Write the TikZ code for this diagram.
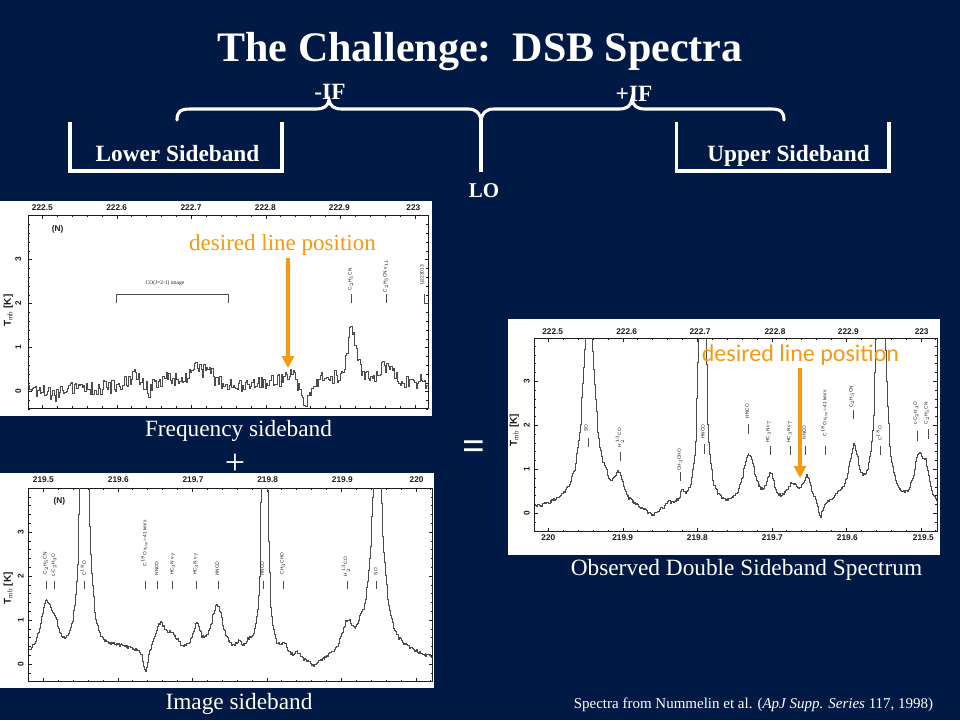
\documentclass[tikz,border=0pt]{standalone}
\usepackage{fontspec}
\setmainfont{Liberation Serif}
\setsansfont{Liberation Sans}
\newfontfamily\carl{Carlito}
\definecolor{slidebg}{HTML}{001A45}
\definecolor{lineorange}{HTML}{F59A12}
\definecolor{inkgray}{HTML}{1C1C1C}
\newcommand{\fsz}[1]{\fontsize{#1}{#1}\selectfont}
\newcommand{\ctwo}{C$_2$H$_5$CN}
\newcommand{\coxy}{c-C$_2$H$_4$O}
\newcommand{\cvlsr}{C$^{18}$O v$_{\rm LSR}$=-41 km/s}
\newcommand{\cone}{C$^{18}$O}
\newcommand{\hcn}{HC$_3$N v$_7$}
\newcommand{\hthree}{H$_2^{\,13}$CO}
\newcommand{\plotframe}[6]{%
  \draw[axisline] (#1,#3) rectangle (#2,#4);
  \begin{scope}
    \clip (#1,#3-1) rectangle (#2,#4+30);
    \foreach \k in {0,...,34}{
      \pgfmathsetmacro{\xx}{#6+(\k-5)*44.7}
      \pgfmathparse{mod(\k,5)==0 ? 11 : 6}\let\len\pgfmathresult
      \draw[axisline] (\xx,#3) -- ++(0,\len);
      \draw[axisline] (\xx,#4) -- ++(0,-\len);
    }
    \foreach \k in {-2,...,20}{
      \pgfmathsetmacro{\yy}{#5-\k*26.4}
      \pgfmathparse{mod(\k+10,5)==0 ? 11 : 6}\let\len\pgfmathresult
      \ifdim\yy pt>#3pt
      \draw[axisline] (#1,\yy) -- ++(\len,0);
      \draw[axisline] (#2,\yy) -- ++(-\len,0);
      \fi
    }
  \end{scope}
}
\tikzset{
  axisline/.style={draw=inkgray,line width=0.5pt},
  traceline/.style={draw=black!70,line width=0.42pt},
  markline/.style={draw=black!70,line width=0.5pt},
  whiteline/.style={draw=white,line width=3.1pt},
  titletext/.style={text=white,font=\bfseries\fsz{42},anchor=base,inner sep=0pt},
  headtext/.style={text=white,font=\bfseries\fsz{23.3},anchor=base,inner sep=0pt},
  captext/.style={text=white,font=\fsz{23.3},anchor=base,inner sep=0pt},
  axlabel/.style={font=\sffamily\bfseries\fsz{8.3},text=inkgray,inner sep=0pt},
  molabel/.style={font=\sffamily\fsz{4.8},text=inkgray,inner sep=0pt,rotate=90},
  oarrow/.style={draw=lineorange,line width=3.6pt,-{Triangle[width=12pt,length=12pt]}},
}
\usetikzlibrary{arrows.meta}
\begin{document}
\begin{tikzpicture}[x=1pt,y=-1pt,
  declare function={
    lz(\x,\c,\a,\w)=\a/(1+min(abs(\x-\c)/\w,100)^2);
    fa(\x)=0.05+lz(\x,160,-.15,15)+lz(\x,405,.28,30)+lz(\x,445,-.25,15)+lz(\x,500,.2,60)+lz(\x,590,.4,25)+lz(\x,625,.22,15)+lz(\x,800,.12,80)+lz(\x,870,.28,25)+lz(\x,915,-.45,15)+lz(\x,975,.2,25)+lz(\x,1053,1.3,18)+lz(\x,1155,.48,30)+lz(\x,1260,.15,30);
    fb(\x)=0.05+lz(\x,138,1.25,22)+lz(\x,165,.35,12)+lz(\x,252,16,8)+lz(\x,360,.25,70)+lz(\x,435,-.55,8)+lz(\x,478,.65,20)+lz(\x,515,.4,25)+lz(\x,588,.65,14)+lz(\x,650,1.2,22)+lz(\x,715,.2,12)+lz(\x,745,.2,10)+lz(\x,792,14,6)+lz(\x,850,.25,10)+lz(\x,890,.12,10)+lz(\x,940,-.2,25)+lz(\x,1040,.7,20)+lz(\x,1080,.25,8)+lz(\x,1130,5,20)+lz(\x,1220,.12,60);
    fc(\x)=0.05+lz(\x,1240,1.1,18)+lz(\x,1262,.6,12)+lz(\x,1126,12,10)+lz(\x,1045,1.25,18)+lz(\x,945,-.4,8)+lz(\x,1000,.15,30)+lz(\x,905,.65,16)+lz(\x,860,.45,22)+lz(\x,795,.65,14)+lz(\x,730,1.2,22)+lz(\x,590,14,7)+lz(\x,530,.25,10)+lz(\x,490,.12,10)+lz(\x,440,-.2,25)+lz(\x,340,.65,18)+lz(\x,300,.2,8)+lz(\x,250,5,20)+lz(\x,160,.08,60);
  }]
\useasboundingbox (0,0) rectangle (960,720);
\fill[slidebg] (0,0) rectangle (960,720);
\pgfmathsetseed{4242}

% ---- header
\node[titletext] (title) at (480,61) {The Challenge:\ \ DSB Spectra};
\node[headtext] (minusif) at (330,99) {-IF};
\node[headtext] (plusif) at (634,101) {+IF};
\node[headtext] (lower) at (177.5,161) {Lower Sideband};
\node[headtext] (upper) at (788.5,161) {Upper Sideband};
\node[headtext,font=\bfseries\fsz{21}] (lo) at (484,197) {LO};

\coordinate (bl) at (177,120);
\coordinate (br) at (784,120);
\coordinate (bm) at (481,120);
\coordinate (lotip) at (481,172);
\draw[whiteline,line cap=round] (bl) .. controls (177,112) and (180,109) .. (190,109) -- (316,109)
  .. controls (324,109) and (328,106) .. (329,100) .. controls (330,106) and (334,109) .. (342,109) -- (468,109)
  .. controls (476,109) and (480,113) .. (bm) .. controls (482,113) and (486,109) .. (494,109) -- (619,109)
  .. controls (627,109) and (631,106) .. (632,99) .. controls (633,106) and (637,109) .. (645,109) -- (771,109)
  .. controls (781,109) and (784,112) .. (br);
\draw[whiteline] (bm) -- (lotip);
\draw[whiteline] (70,122) -- (70,171) -- (282,171) -- (282,122);
\draw[whiteline] (676.5,122) -- (676.5,171) -- (889,171) -- (889,122);

% ---- panel 1
\fill[white] (0,201) rectangle (432,416);
\begin{scope}[shift={(0,195)},x=0.33333pt,y=-0.33333pt]
  \plotframe{84}{1285}{60}{640}{590}{127}
  \begin{scope}
    \clip (84,60) rectangle (1285,640);
    \draw[traceline] plot[const plot,samples=300,domain=85:1284] (\x,{590-132*(fa(\x)+0.16*rand)});
  \end{scope}
  \foreach \lab/\xp [count=\n] in {222.5/127,222.6/350,222.7/573,222.8/796,222.9/1018,223/1240}
    \node[axlabel] (pat\n) at (\xp,37) {\lab};
  \foreach \lab/\yp [count=\n] in {0/590,1/457,2/325,3/193}
    \node[axlabel,rotate=90] (pal\n) at (55,\yp) {\lab};
  \node[axlabel,rotate=90,font=\sffamily\bfseries\fsz{10}] (paT) at (25,347) {T$_{\rm mb}$ [K]};
  \node[axlabel] (paN) at (173,103) {(N)};
  \node[molabel,rotate=-90,font=\fsz{5.5}] (paco) at (495,265) {CO(J=2-1) image};
  \draw[markline] (350,325) -- (350,298) -- (685,298) -- (685,325);
  \draw[markline] (1055,298) -- (1055,325);
  \draw[markline] (1160,298) -- (1160,325);
  \draw[markline] (1272,298) -- (1272,325) -- (1285,325);
  \node[molabel] (pam1) at (1052,253) {\ctwo};
  \node[molabel] (pam2) at (1157,243) {\ctwo\ v$_{11}$};
  \node[molabel] (pam3) at (1266,240) {U223013};
\end{scope}
\node[inner sep=0pt,anchor=base,text=lineorange,font=\fsz{23}] (des1) at (282.5,250) {desired line position};
\coordinate (a1s) at (288,258);
\coordinate (a1e) at (288,368);
\draw[oarrow] (a1s) -- (a1e);
\node[captext] (cap1) at (238.5,436) {Frequency sideband};
\node[text=white,font=\fsz{36}] (plus) at (235,464) {+};

% ---- panel 2
\fill[white] (0,473) rectangle (434,688);
\begin{scope}[shift={(0,470)},x=0.33333pt,y=-0.33333pt]
  \plotframe{86}{1298}{55}{635}{582}{130}
  \begin{scope}
    \clip (86,55) rectangle (1298,635);
    \draw[traceline] plot[const plot,samples=480,domain=87:1297] (\x,{582-132*(fb(\x)+0.035*rand)});
  \end{scope}
  \foreach \lab/\xp [count=\n] in {219.5/130,219.6/355,219.7/579,219.8/803,219.9/1027,220/1250}
    \node[axlabel] (pbt\n) at (\xp,29) {\lab};
  \foreach \lab/\yp [count=\n] in {0/582,1/450,2/318,3/186}
    \node[axlabel,rotate=90] (pbl\n) at (62,\yp) {\lab};
  \node[axlabel,rotate=90,font=\sffamily\bfseries\fsz{10}] (pbT) at (25,355) {T$_{\rm mb}$ [K]};
  \node[axlabel] (pbN) at (178,94) {(N)};
  \foreach \xp/\lx/\ly/\lab [count=\n] in {140/137/280/\ctwo,163/162/285/\coxy,253/250/295/\cone,436/433/220/\cvlsr,472/470/295/HNCO,518/518/282/\hcn,589/587/282/\hcn,655/652/296/HNCO,790/787/296/HNCO,851/848/280/CH$_3$CHO,1042/1038/290/\hthree,1130/1127/305/SO}{
    \draw[markline] (\xp,332) -- (\xp,357);
    \node[molabel] (pbm\n) at (\lx,\ly) {\lab};
  }
\end{scope}
\node[captext] (cap2) at (239,709) {Image sideband};

% ---- panel 3
\fill[white] (508,319) rectangle (940,555);
\begin{scope}[shift={(505,315)},x=0.33333pt,y=-0.33333pt]
  \plotframe{88}{1296}{70}{650}{595}{130}
  \begin{scope}
    \clip (88,70) rectangle (1296,650);
    \draw[traceline] plot[const plot,samples=480,domain=89:1295] (\x,{595-132*(fc(\x)+0.035*rand)});
  \end{scope}
  \foreach \lab/\xp [count=\n] in {222.5/143,222.6/365,222.7/585,222.8/810,222.9/1030,223/1250}
    \node[axlabel] (pct\n) at (\xp,50) {\lab};
  \foreach \lab/\xp [count=\n] in {220/130,219.9/353,219.8/577,219.7/802,219.6/1027,219.5/1255}
    \node[axlabel] (pcb\n) at (\xp,668) {\lab};
  \foreach \lab/\yp [count=\n] in {0/595,1/463,2/332,3/200}
    \node[axlabel,rotate=90] (pcl\n) at (65,\yp) {\lab};
  \node[axlabel,rotate=90,font=\sffamily\bfseries\fsz{10}] (pcT) at (28,345) {T$_{\rm mb}$ [K]};
  \foreach \xp/\ta/\tb/\lx/\ly/\lab [count=\n] in {250/370/395/243/340/SO,345/412/438/345/368/\hthree,527/470/497/525/435/CH$_3$CHO,598/388/417/594/350/HNCO,730/328/356/727/288/HNCO,795/392/421/790/350/\hcn,856/392/421/853/350/\hcn,902/392/421/898/352/HNCO,962/392/421/958/295/\cvlsr,1045/285/313/1040/245/\ctwo,1127/392/421/1122/355/\cone,1237/348/377/1233/295/\coxy,1270/343/372/1265/295/\ctwo}{
    \draw[markline] (\xp,\ta) -- (\xp,\tb);
    \node[molabel] (pcm\n) at (\lx,\ly) {\lab};
  }
\end{scope}
\node[inner sep=0pt,anchor=base,text=lineorange,font=\carl\fsz{24}] (des2) at (800.5,361) {desired line position};
\coordinate (a3s) at (800,368);
\coordinate (a3e) at (800,478);
\draw[oarrow] (a3s) -- (a3e);
\node[text=white,font=\bfseries\fsz{40}] (equals) at (473.5,450) {=};
\node[captext] (cap3) at (746.5,575) {Observed Double Sideband Spectrum};
\node[inner sep=0pt,anchor=base,text=white,font=\fsz{15}] (credit) at (753.5,708) {Spectra from Nummelin et al. (\textit{ApJ Supp. Series} 117, 1998)};
\end{tikzpicture}
\end{document}
